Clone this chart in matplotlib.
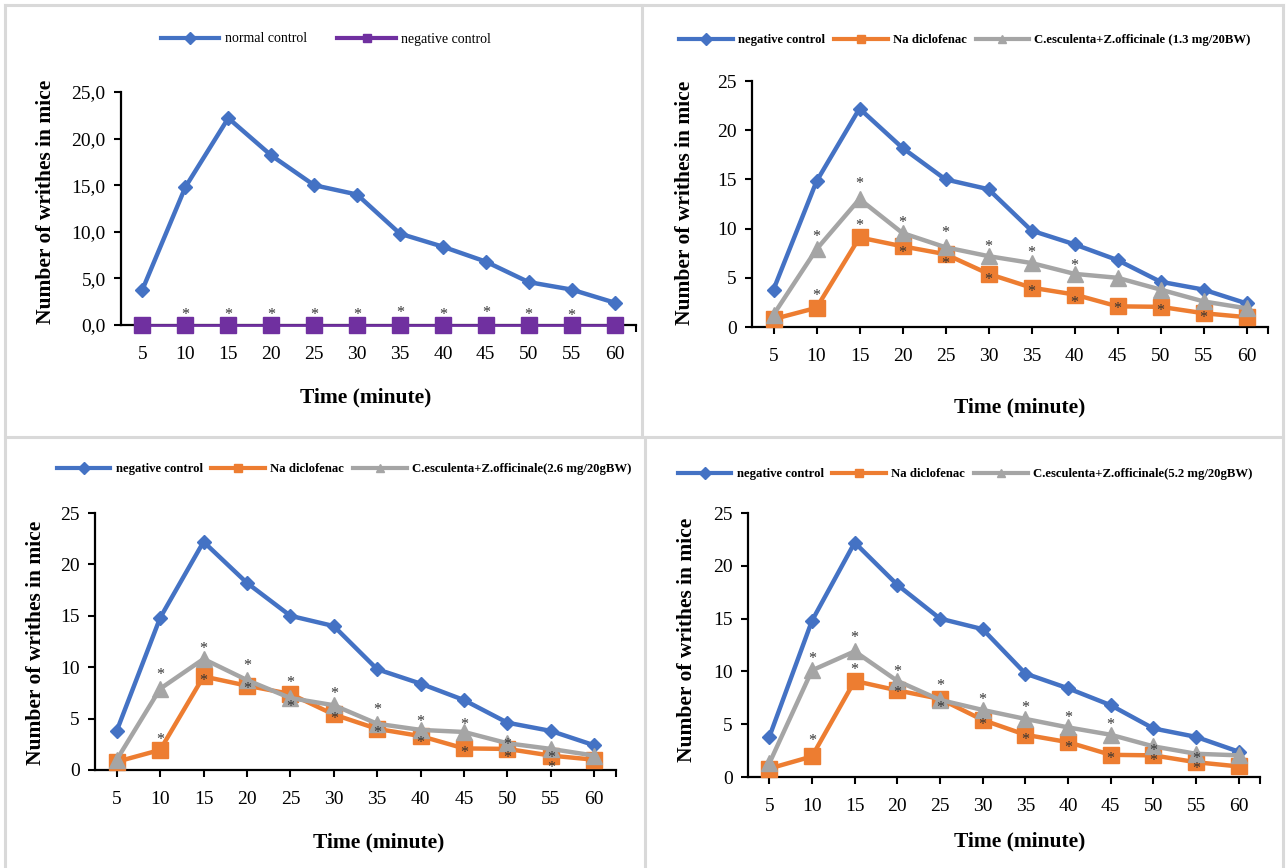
import matplotlib

matplotlib.use("Agg")

import matplotlib.pyplot as plt
from matplotlib.lines import Line2D

W, H = 1287, 868

minutes = [5, 10, 15, 20, 25, 30, 35, 40, 45, 50, 55, 60]
untreated = [3.8, 14.8, 22.2, 18.2, 15.0, 14.0, 9.8, 8.4, 6.8, 4.6, 3.8, 2.4]
zero_line = [0.0, 0.0, 0.0, 0.0, 0.0, 0.0, 0.0, 0.0, 0.0, 0.0, 0.0, 0.0]
diclofenac = [0.8, 1.95, 9.1, 8.2, 7.4, 5.4, 4.0, 3.3, 2.1, 2.05, 1.4, 1.0]
extract_13 = [1.25, 7.9, 13.0, 9.55, 8.1, 7.2, 6.5, 5.4, 5.0, 3.8, 2.6, 1.9]
extract_26 = [1.0, 7.9, 10.8, 8.75, 7.0, 6.3, 4.5, 3.9, 3.7, 2.6, 2.05, 1.4]
extract_52 = [1.3, 10.1, 11.9, 9.1, 7.3, 6.35, 5.5, 4.7, 4.0, 2.9, 2.2, 2.05]

extract_labels = [
    "C.esculenta+Z.officinale (1.3 mg/20BW)",
    "C.esculenta+Z.officinale(2.6 mg/20gBW)",
    "C.esculenta+Z.officinale(5.2 mg/20gBW)",
]

# significance marks (*), x and y in data units
stars1_x = [10, 15, 20, 25, 30, 35, 40, 45, 50, 55]
stars1_y = [1.36, 1.36, 1.36, 1.36, 1.36, 1.6, 1.36, 1.6, 1.36, 1.25]
stars2_x = [10, 10, 15, 15, 20, 20, 25, 25, 30, 30, 35, 35, 40, 40, 45, 50, 55]
stars2_y = [9.4, 3.5, 14.8, 10.6, 10.9, 7.85, 9.9, 6.75, 8.4, 5.1, 7.8, 3.85, 6.5, 2.7, 2.1, 1.9, 1.25]
stars3_x = [10, 10, 15, 15, 20, 20, 25, 25, 30, 30, 35, 35, 40, 40, 45, 45, 50, 50, 55, 55]
stars3_y = [9.5, 3.25, 12.05, 8.9, 10.4, 8.2, 8.75, 6.4, 7.7, 5.25, 6.15, 3.9, 5.0, 2.9, 4.7, 1.95, 2.75, 1.5, 1.45, 0.5]
stars4_x = stars3_x
stars4_y = [11.5, 3.7, 13.4, 10.4, 10.2, 8.2, 8.9, 6.8, 7.6, 5.2, 6.8, 3.8, 5.9, 3.05, 5.2, 1.95, 2.7, 1.8, 1.95, 1.07]

BLUE = "#4472C4"
ORANGE = "#ED7D31"
GRAY = "#A5A5A5"
PURPLE = "#7030A0"
SERIF = "Liberation Serif"

plt.rcParams["font.family"] = SERIF

fig = plt.figure(figsize=(W / 100, H / 100), dpi=100)


def fx(px):
    return px / W


def fy(py):
    return 1 - py / H


def make_axes(left, right, top, bottom):
    return fig.add_axes([fx(left), fy(bottom), fx(right - left), (bottom - top) / H])


def style_axes(ax, comma=False):
    ax.set_xlim(2.5, 62.5)
    ax.set_ylim(0, 25)
    ax.set_xticks(minutes)
    ax.set_xticklabels([str(m) for m in minutes])
    ax.set_xticks([62.5], minor=True)
    ax.set_yticks([0, 5, 10, 15, 20, 25])
    if comma:
        ax.set_yticklabels([f"{v},0" for v in [0, 5, 10, 15, 20, 25]])
    for s in ("top", "right"):
        ax.spines[s].set_visible(False)
    for s in ("left", "bottom"):
        ax.spines[s].set_linewidth(1.6)
    ax.tick_params(which="both", direction="out", length=5, width=1.5, labelsize=14)
    ax.tick_params(axis="x", pad=10)
    ax.tick_params(axis="y", pad=6)


def set_labels(ax, ylab_xy, xlab_xy):
    ax.set_ylabel("Number of writhes in mice", fontsize=15.5, fontweight="bold", va="center")
    ax.yaxis.set_label_coords(fx(ylab_xy[0]), fy(ylab_xy[1]), transform=fig.transFigure)
    ax.set_xlabel("Time (minute)", fontsize=15.5, fontweight="bold", va="center")
    ax.xaxis.set_label_coords(fx(xlab_xy[0]), fy(xlab_xy[1]), transform=fig.transFigure)


def add_stars(ax, xs, ys):
    for x, y in zip(xs, ys):
        ax.annotate("*", (x, y), xytext=(0, -5), textcoords="offset points",
                    ha="center", va="baseline", fontsize=11.5, color="#333333", zorder=8)


def handle(color, marker):
    return Line2D([], [], color=color, lw=3, marker=marker, markersize=6)


def three_series(ax, extract, label, stars_x, stars_y, legend_xy):
    ax.plot(minutes, untreated, color=BLUE, lw=3.2, marker="D", markersize=7, clip_on=False, zorder=3)
    ax.plot(minutes, diclofenac, color=ORANGE, lw=3.2, marker="s", markersize=11.5, clip_on=False, zorder=4)
    ax.plot(minutes, extract, color=GRAY, lw=3.2, marker="^", markersize=11, clip_on=False, zorder=5)
    add_stars(ax, stars_x, stars_y)
    fig.legend([handle(BLUE, "D"), handle(ORANGE, "s"), handle(GRAY, "^")],
               ["negative control", "Na diclofenac", label],
               loc="center", bbox_to_anchor=(fx(legend_xy[0]), fy(legend_xy[1])),
               ncol=3, frameon=False, handlelength=4.2, handletextpad=0.4, columnspacing=0.7,
               prop={"family": SERIF, "size": 9.2, "weight": "bold"})


# panel 1
ax1 = make_axes(121, 636, 92, 325)
style_axes(ax1, comma=True)
ax1.plot(minutes, untreated, color=BLUE, lw=3.2, marker="D", markersize=7, clip_on=False, zorder=3)
ax1.plot(minutes, zero_line, color=PURPLE, lw=2, marker="s", markersize=12, clip_on=False, zorder=4)
add_stars(ax1, stars1_x, stars1_y)
set_labels(ax1, (46, 202), (366, 397))
fig.legend([handle(BLUE, "D"), handle(PURPLE, "s")], ["normal control", "negative control"],
           loc="center", bbox_to_anchor=(fx(326), fy(39)), ncol=2, frameon=False,
           handlelength=4.2, handletextpad=0.4, columnspacing=2.2,
           prop={"family": SERIF, "size": 10})

# panel 2
ax2 = make_axes(752, 1268, 81, 327)
style_axes(ax2)
three_series(ax2, extract_13, extract_labels[0], stars2_x, stars2_y, (965, 40))
set_labels(ax2, (685, 203), (1020, 407))

# panel 3
ax3 = make_axes(95, 616, 513, 770)
style_axes(ax3)
three_series(ax3, extract_26, extract_labels[1], stars3_x, stars3_y, (344, 469))
set_labels(ax3, (36, 643), (379, 842))

# panel 4
ax4 = make_axes(748, 1260, 513, 777)
style_axes(ax4)
three_series(ax4, extract_52, extract_labels[2], stars4_x, stars4_y, (965, 474))
set_labels(ax4, (687, 640), (1020, 841))

# light grey panel frames
frame = dict(color="#d9d9d9", lw=2.2, transform=fig.transFigure, zorder=0)
for (x0, y0, x1, y1) in [(5, 5, 1283, 5), (5, 437, 1283, 437), (5, 5, 5, 868),
                         (642, 5, 642, 437), (645, 437, 645, 868), (1283, 5, 1283, 868)]:
    fig.add_artist(Line2D([fx(x0), fx(x1)], [fy(y0), fy(y1)], **frame))

fig.savefig("out.png", dpi=100)
